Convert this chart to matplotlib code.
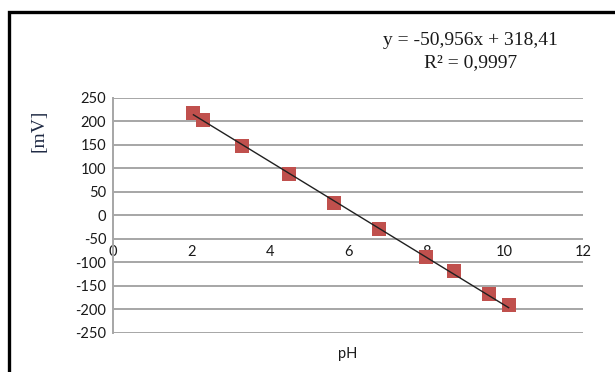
import numpy as np
import matplotlib.pyplot as plt
from matplotlib.patches import Rectangle

plt.rcParams["axes.unicode_minus"] = False

# measured points (pH vs potential)
ph = [2.05, 2.3, 3.3, 4.5, 5.65, 6.8, 8.0, 8.7, 9.6, 10.1]
mv = [218, 203, 148, 88, 27, -28, -88, -118, -168, -191]

slope = -50.956
intercept = 318.41
eq_text = "y = -50,956x + 318,41\nR² = 0,9997"

x_ticks = [0, 2, 4, 6, 8, 10, 12]
y_ticks = [-250, -200, -150, -100, -50, 0, 50, 100, 150, 200, 250]

fig = plt.figure(figsize=(6.15, 3.72), dpi=100)
ax = fig.add_axes([0.184, 0.105, 0.764, 0.632])

# outer frame (only left and top visible in the crop)
fig.patches.append(Rectangle((0.014, -0.1), 1.1, 1.068, transform=fig.transFigure,
                             fill=False, edgecolor="black", linewidth=2.4, clip_on=False))

ax.set_xlim(0, 12)
ax.set_ylim(-250, 250)
ax.set_yticks(y_ticks)
ax.set_xticks(x_ticks)
ax.yaxis.grid(True, color="#a6a6a6", linewidth=1.4)
ax.set_axisbelow(True)

for s in ["top", "right"]:
    ax.spines[s].set_visible(False)
ax.spines["left"].set_color("#a6a6a6")
ax.spines["left"].set_linewidth(1.4)
ax.spines["bottom"].set_position(("data", 0))
ax.spines["bottom"].set_visible(False)

ax.tick_params(axis="y", length=0, pad=5, labelsize=10.5, labelcolor="#1a1a1a")
ax.tick_params(axis="x", length=0, pad=21, labelsize=10.5, labelcolor="#1a1a1a")
for lab in ax.get_xticklabels() + ax.get_yticklabels():
    lab.set_family("Lato")

ax.scatter(ph, mv, marker="s", s=110, color="#c0504d", zorder=3, linewidths=0)
xf = np.array([min(ph), max(ph)])
ax.plot(xf, slope * xf + intercept, color="#202020", linewidth=1.0, zorder=4)

ax.set_ylabel("[mV]", family="Liberation Serif", fontsize=14, color="#1f2a44")
ax.yaxis.set_label_coords(-0.14, 0.86)
ax.set_xlabel("pH", family="Lato", fontsize=10.5, color="#1a1a1a")
ax.xaxis.set_label_coords(0.5, -0.06)

fig.text(0.765, 0.915, eq_text, family="Liberation Serif", fontsize=14,
         ha="center", va="top", linespacing=1.45, color="#1a1a1a")

fig.savefig("out.png", dpi=100)
